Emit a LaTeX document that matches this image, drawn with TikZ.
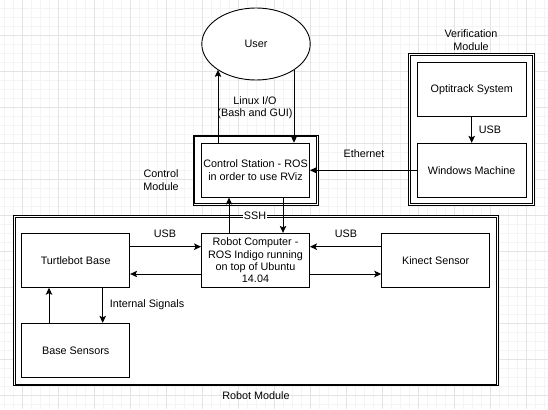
\documentclass[tikz,border=0pt]{standalone}
\usepackage{fontspec}
\setmainfont{Liberation Sans}
\usetikzlibrary{shapes.geometric,arrows.meta}
\definecolor{gridmajor}{RGB}{228,228,228}
\definecolor{gridminor}{RGB}{244,244,244}
\begin{document}
\begin{tikzpicture}[x=1pt,y=-1pt,
  every node/.style={font=\fontsize{10.8}{12.3}\selectfont},
  box/.style={draw, fill=white, line width=0.9pt, minimum width=108pt, minimum height=54pt, inner sep=0pt, align=center},
  oval/.style={draw, ellipse, fill=white, line width=0.9pt, minimum width=108.4pt, minimum height=72pt, inner sep=0pt},
  frame/.style={draw, fill=white, line width=0.9pt, inner sep=0pt},
  frameline/.style={draw, line width=0.9pt},
  arr/.style={draw, line width=0.9pt, -{Stealth[length=7pt,width=6.5pt,inset=1.5pt]}},
  lbl/.style={align=center, inner sep=1pt}]
\useasboundingbox (0,0) rectangle (548,409);
\fill[white] (0,0) rectangle (548,409);
% background grid
\foreach \i in {0,...,60} {
  \draw[gridminor, line width=0.8pt] ({4.3+9*\i},0) -- ({4.3+9*\i},409);
}
\foreach \i in {0,...,45} {
  \draw[gridminor, line width=0.8pt] (0,{8.3+9*\i}) -- (548,{8.3+9*\i});
}
\foreach \i in {0,...,14} {
  \draw[gridmajor, line width=0.8pt] ({22.3+36*\i},0) -- ({22.3+36*\i},409);
}
\foreach \i in {0,...,10} {
  \draw[gridmajor, line width=0.8pt] (0,{35.3+36*\i}) -- (548,{35.3+36*\i});
}
% module frames (outer line as node, inner line drawn inside)
\node[frame, minimum width=125.5pt, minimum height=70.5pt] (csf) at (255.75,170.25) {};
\draw[frameline] ([shift={(2.3,2.3)}]csf.north west) rectangle ([shift={(-2.3,-2.3)}]csf.south east);
\node[frame, minimum width=125.7pt, minimum height=151.4pt] (vf) at (471.65,129.5) {};
\draw[frameline] ([shift={(2.3,2.3)}]vf.north west) rectangle ([shift={(-2.3,-2.3)}]vf.south east);
\node[frame, minimum width=485pt, minimum height=170.3pt] (rf) at (255.7,300.65) {};
\draw[frameline] ([shift={(2.3,2.3)}]rf.north west) rectangle ([shift={(-2.3,-2.3)}]rf.south east);
% nodes
\node[oval] (user) at (256,44) {User};
\node[box] (cs) at (255.5,170.2) {Control Station - ROS\\in order to use RViz};
\node[box, minimum width=108.7pt] (opt) at (471.7,89.5) {Optitrack System};
\node[box, minimum width=108.7pt] (win) at (471.7,170.3) {Windows Machine};
\node[box] (tb) at (75.7,260.3) {Turtlebot Base};
\node[box] (rc) at (255.5,260.3) {Robot Computer -\\ROS Indigo running\\on top of Ubuntu\\14.04};
\node[box] (ks) at (435.7,260.3) {Kinect Sensor};
\node[box] (bs) at (75.7,350.3) {Base Sensors};
% helper coordinates
\coordinate (xa) at (218,0);
\coordinate (xb) at (294,0);
\coordinate (xc) at (229,0);
\coordinate (xd) at (283,0);
\coordinate (xl) at (49,0);
\coordinate (xr) at (102.7,0);
\coordinate (yt) at (0,246.7);
\coordinate (yb) at (0,274);
% connectors
\draw[arr] (cs.north -| xa) -- (user.214 -| xa);
\draw[arr] (user.326 -| xb) -- (cs.north -| xb);
\draw[arr] (rc.north -| xc) -- (cs.south -| xc);
\draw[arr] (cs.south -| xd) -- (rc.north -| xd);
\draw[arr] (opt.south) -- (win.north);
\draw[arr] (win.west) -- (win.west -| cs.east);
\draw[arr] (tb.east |- yt) -- (rc.west |- yt);
\draw[arr] (rc.west |- yb) -- (tb.east |- yb);
\draw[arr] (ks.west |- yt) -- (rc.east |- yt);
\draw[arr] (rc.east |- yb) -- (ks.west |- yb);
\draw[arr] (bs.north -| xl) -- (tb.south -| xl);
\draw[arr] (tb.south -| xr) -- (bs.north -| xr);
% labels
\node[lbl] (lio) at (255,108) {Linux I/O\\(Bash and GUI)};
\node[lbl] (cml) at (161,180) {Control\\Module};
\node[lbl] (vml) at (471,40) {Verification\\Module};
\node[lbl] (usb1) at (490,130) {USB};
\node[lbl] (eth) at (364,154) {Ethernet};
\node[lbl, fill=white, inner xsep=1pt, inner ysep=0pt] (ssh) at (255,216) {SSH};
\node[lbl] (usb2) at (165,234) {USB};
\node[lbl] (usb3) at (346,234) {USB};
\node[lbl] (isig) at (147,305) {Internal Signals};
\node[lbl] (rml) at (256,396) {Robot Module};
\end{tikzpicture}
\end{document}
